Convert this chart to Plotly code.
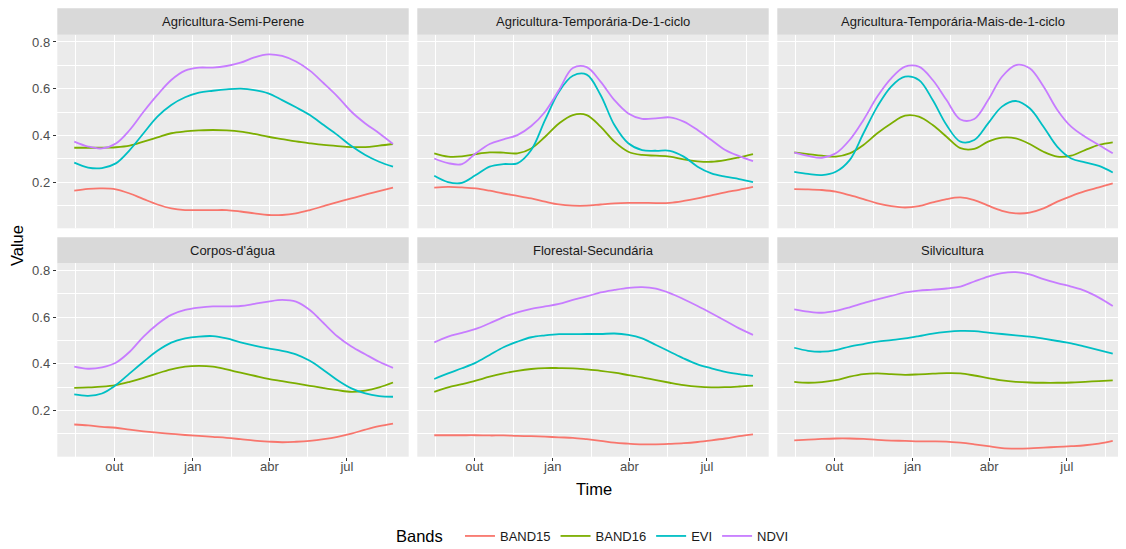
import pandas as pd
import plotly.graph_objects as go
from plotly.subplots import make_subplots

# 16-day composites, Aug 2013 -> Aug 2014
dates = pd.date_range("2013-08-15", "2014-08-24", periods=24)

classes = ["Agricultura-Semi-Perene", "Agricultura-Temporária-De-1-ciclo",
           "Agricultura-Temporária-Mais-de-1-ciclo", "Corpos-d'água",
           "Florestal-Secundária", "Silvicultura"]
bands = ["BAND15", "BAND16", "EVI", "NDVI"]
band_colors = ["#F8766D", "#7CAE00", "#00BFC4", "#C77CFF"]

tick_dates = ["2013-10-01", "2014-01-01", "2014-04-01", "2014-07-01"]
tick_labels = ["out", "jan", "abr", "jul"]
minor_dates = ["2013-08-16", "2013-11-16", "2014-02-15", "2014-05-16", "2014-08-16"]
y_ticks = [0.2, 0.4, 0.6, 0.8]
y_minor = [0.1, 0.3, 0.5, 0.7]

# Agricultura-Semi-Perene
semi_band15 = [0.163, 0.171, 0.173, 0.169, 0.151, 0.127, 0.104, 0.087, 0.080, 0.080, 0.080, 0.080,
               0.074, 0.066, 0.059, 0.059, 0.066, 0.080, 0.097, 0.114, 0.130, 0.146, 0.161, 0.176]
semi_band16 = [0.347, 0.347, 0.347, 0.349, 0.356, 0.373, 0.391, 0.409, 0.417, 0.421, 0.423, 0.421,
               0.416, 0.406, 0.394, 0.384, 0.374, 0.366, 0.359, 0.354, 0.350, 0.350, 0.356, 0.363]
semi_evi = [0.283, 0.262, 0.260, 0.280, 0.337, 0.409, 0.480, 0.530, 0.563, 0.583, 0.591, 0.597,
            0.600, 0.594, 0.580, 0.551, 0.520, 0.487, 0.444, 0.401, 0.354, 0.316, 0.287, 0.266]
semi_ndvi = [0.373, 0.352, 0.344, 0.365, 0.423, 0.501, 0.573, 0.637, 0.677, 0.690, 0.690, 0.697,
             0.711, 0.734, 0.747, 0.740, 0.716, 0.677, 0.623, 0.566, 0.501, 0.451, 0.409, 0.363]

# Agricultura-Temporária-De-1-ciclo
temp1_band15 = [0.176, 0.179, 0.177, 0.173, 0.163, 0.151, 0.141, 0.130, 0.116, 0.104, 0.099, 0.099,
                0.104, 0.109, 0.111, 0.111, 0.110, 0.111, 0.119, 0.130, 0.143, 0.156, 0.167, 0.179]
temp1_band16 = [0.323, 0.309, 0.310, 0.320, 0.327, 0.326, 0.323, 0.344, 0.394, 0.451, 0.487, 0.487,
                0.437, 0.373, 0.330, 0.316, 0.313, 0.309, 0.297, 0.289, 0.287, 0.294, 0.306, 0.320]
temp1_evi = [0.227, 0.200, 0.197, 0.230, 0.266, 0.277, 0.280, 0.337, 0.466, 0.587, 0.655, 0.660,
             0.573, 0.444, 0.366, 0.337, 0.334, 0.334, 0.309, 0.266, 0.237, 0.223, 0.213, 0.200]
temp1_ndvi = [0.301, 0.281, 0.277, 0.323, 0.363, 0.383, 0.401, 0.440, 0.501, 0.594, 0.688, 0.692,
              0.630, 0.551, 0.494, 0.471, 0.473, 0.477, 0.459, 0.423, 0.380, 0.337, 0.311, 0.290]

# Agricultura-Temporária-Mais-de-1-ciclo
tempm_band15 = [0.170, 0.169, 0.166, 0.159, 0.144, 0.127, 0.109, 0.097, 0.091, 0.097, 0.113, 0.127,
                0.134, 0.123, 0.099, 0.077, 0.066, 0.069, 0.087, 0.116, 0.140, 0.161, 0.177, 0.194]
tempm_band16 = [0.327, 0.320, 0.313, 0.309, 0.323, 0.359, 0.409, 0.451, 0.484, 0.480, 0.444, 0.394,
                0.345, 0.342, 0.373, 0.390, 0.387, 0.363, 0.330, 0.309, 0.313, 0.337, 0.359, 0.370]
tempm_evi = [0.244, 0.235, 0.230, 0.244, 0.294, 0.409, 0.523, 0.609, 0.651, 0.637, 0.551, 0.444,
             0.373, 0.380, 0.451, 0.523, 0.547, 0.516, 0.437, 0.351, 0.301, 0.284, 0.269, 0.241]
tempm_ndvi = [0.326, 0.312, 0.304, 0.323, 0.380, 0.466, 0.566, 0.644, 0.694, 0.694, 0.637, 0.551,
              0.468, 0.470, 0.551, 0.651, 0.701, 0.687, 0.609, 0.509, 0.437, 0.394, 0.359, 0.323]

# Corpos-d'água
agua_band15 = [0.140, 0.136, 0.130, 0.126, 0.118, 0.111, 0.105, 0.100, 0.095, 0.091, 0.087, 0.083,
               0.077, 0.071, 0.067, 0.064, 0.066, 0.070, 0.077, 0.087, 0.101, 0.118, 0.133, 0.144]
agua_band16 = [0.297, 0.299, 0.302, 0.309, 0.323, 0.340, 0.359, 0.376, 0.388, 0.391, 0.388, 0.376,
               0.362, 0.349, 0.336, 0.326, 0.316, 0.306, 0.296, 0.287, 0.280, 0.285, 0.299, 0.320]
agua_evi = [0.269, 0.263, 0.273, 0.309, 0.359, 0.409, 0.456, 0.491, 0.509, 0.517, 0.519, 0.509,
            0.492, 0.478, 0.466, 0.456, 0.441, 0.413, 0.373, 0.330, 0.295, 0.273, 0.262, 0.259]
agua_ndvi = [0.388, 0.379, 0.385, 0.405, 0.452, 0.517, 0.570, 0.610, 0.631, 0.641, 0.646, 0.646,
             0.648, 0.657, 0.667, 0.674, 0.667, 0.631, 0.574, 0.517, 0.474, 0.441, 0.409, 0.383]

# Florestal-Secundária
flor_band15 = [0.094, 0.094, 0.094, 0.094, 0.093, 0.093, 0.091, 0.090, 0.088, 0.085, 0.083, 0.077,
               0.070, 0.062, 0.058, 0.055, 0.055, 0.057, 0.060, 0.065, 0.072, 0.080, 0.090, 0.098]
flor_band16 = [0.280, 0.299, 0.313, 0.328, 0.345, 0.359, 0.370, 0.378, 0.382, 0.382, 0.381, 0.376,
               0.370, 0.362, 0.352, 0.342, 0.330, 0.319, 0.309, 0.302, 0.299, 0.300, 0.303, 0.307]
flor_evi = [0.335, 0.359, 0.381, 0.405, 0.438, 0.471, 0.495, 0.514, 0.522, 0.527, 0.527, 0.528,
            0.528, 0.530, 0.524, 0.509, 0.481, 0.452, 0.423, 0.398, 0.381, 0.366, 0.356, 0.348]
flor_ndvi = [0.492, 0.517, 0.533, 0.550, 0.574, 0.600, 0.621, 0.636, 0.646, 0.657, 0.674, 0.689,
             0.706, 0.717, 0.726, 0.729, 0.722, 0.703, 0.677, 0.648, 0.617, 0.585, 0.552, 0.524]

# Silvicultura
silv_band15 = [0.072, 0.075, 0.078, 0.080, 0.080, 0.078, 0.074, 0.071, 0.070, 0.068, 0.068, 0.067,
               0.062, 0.055, 0.047, 0.039, 0.037, 0.038, 0.041, 0.044, 0.047, 0.051, 0.058, 0.070]
silv_band16 = [0.323, 0.319, 0.322, 0.330, 0.345, 0.356, 0.359, 0.356, 0.353, 0.355, 0.358, 0.360,
               0.359, 0.350, 0.339, 0.329, 0.323, 0.320, 0.319, 0.319, 0.320, 0.323, 0.326, 0.329]
silv_evi = [0.469, 0.456, 0.452, 0.459, 0.474, 0.485, 0.495, 0.502, 0.509, 0.519, 0.530, 0.537,
            0.541, 0.540, 0.534, 0.528, 0.522, 0.517, 0.508, 0.498, 0.488, 0.474, 0.459, 0.444]
silv_ndvi = [0.634, 0.624, 0.619, 0.627, 0.642, 0.660, 0.676, 0.691, 0.706, 0.714, 0.718, 0.723,
             0.731, 0.753, 0.774, 0.789, 0.793, 0.784, 0.763, 0.746, 0.731, 0.713, 0.684, 0.648]

series = [
    [semi_band15, semi_band16, semi_evi, semi_ndvi],
    [temp1_band15, temp1_band16, temp1_evi, temp1_ndvi],
    [tempm_band15, tempm_band16, tempm_evi, tempm_ndvi],
    [agua_band15, agua_band16, agua_evi, agua_ndvi],
    [flor_band15, flor_band16, flor_evi, flor_ndvi],
    [silv_band15, silv_band16, silv_evi, silv_ndvi],
]

W, H = 1126, 549
OFF = 8  # page body margin: the plot div starts 8px in
FONT = "Liberation Sans, Arial, sans-serif"


def px_x(p):
    return (p - OFF) / W


def px_y(p):
    return 1 - (p - OFF) / H


fig = make_subplots(rows=2, cols=3)

for i, vals in enumerate(series):
    r, c = i // 3 + 1, i % 3 + 1
    for b, band in enumerate(bands):
        fig.add_trace(go.Scatter(x=dates, y=vals[b], mode="lines", name=band,
                                 line=dict(color=band_colors[b], width=1.8, shape="spline", smoothing=1.0),
                                 legendgroup=band, showlegend=(i == 0), hoverinfo="skip"),
                      row=r, col=c)

# panel geometry in page pixels (ggplot facet_wrap look)
col_px = [(57.3, 408.7), (417.3, 768.7), (777.3, 1126 + OFF)]
row_px = [(34.7, 228.3), (263.3, 456.7)]
strip_px = [(8.3, 34.7), (237.3, 263.3)]
x_left = "2013-07-26 03:00"
x_right = ["2014-09-11 10:00", "2014-09-11 10:00", "2014-09-17 23:00"]

for i in range(6):
    r, c = i // 3, i % 3
    n = "" if i == 0 else str(i + 1)
    x0, x1 = col_px[c]
    y0, y1 = row_px[r]
    fig.layout["xaxis" + n].update(
        domain=[px_x(x0), px_x(x1)], range=[x_left, x_right[c]], type="date",
        tickvals=tick_dates, ticktext=tick_labels,
        showticklabels=(r == 1), ticks="outside" if r == 1 else "",
        ticklen=3.5, tickwidth=1.1, tickcolor="#333333", ticklabelstandoff=-6,
        tickfont=dict(size=13, color="#4D4D4D", family=FONT),
        showgrid=True, gridcolor="white", gridwidth=1.1, zeroline=False, showline=False,
        minor=dict(tickvals=minor_dates, showgrid=True, gridcolor="white", gridwidth=0.55),
    )
    fig.layout["yaxis" + n].update(
        domain=[px_y(y1), px_y(y0)], range=[0.002, 0.831],
        tickvals=y_ticks, ticktext=[f"{v:.1f}" for v in y_ticks],
        showticklabels=(c == 0), ticks="outside" if c == 0 else "",
        ticklen=3.5, tickwidth=1.1, tickcolor="#333333",
        tickfont=dict(size=13, color="#4D4D4D", family=FONT),
        showgrid=True, gridcolor="white", gridwidth=1.1, zeroline=False, showline=False,
        minor=dict(tickvals=y_minor, showgrid=True, gridcolor="white", gridwidth=0.55),
    )
    s0, s1 = strip_px[r]
    fig.add_shape(type="rect", xref="paper", yref="paper",
                  x0=px_x(x0), x1=px_x(x1), y0=px_y(s1), y1=px_y(s0),
                  fillcolor="#D9D9D9", line=dict(width=0), layer="below")
    fig.add_annotation(text=classes[i], xref="paper", yref="paper",
                       x=px_x(x0 + 175.7), y=px_y((s0 + s1) / 2),
                       showarrow=False, font=dict(size=13, color="#1A1A1A", family=FONT),
                       xanchor="center", yanchor="middle")

fig.add_annotation(text="Value", xref="paper", yref="paper", x=px_x(17), y=px_y(246),
                   xanchor="center", yanchor="middle",
                   textangle=-90, showarrow=False, font=dict(size=16.5, color="black", family=FONT))
fig.add_annotation(text="Time", xref="paper", yref="paper", x=px_x(594), y=px_y(489),
                   xanchor="center", yanchor="middle",
                   showarrow=False, font=dict(size=16.5, color="black", family=FONT))

fig.update_layout(
    width=W, height=H, autosize=False,
    margin=dict(l=0, r=0, t=0, b=0),
    plot_bgcolor="#EBEBEB", paper_bgcolor="white",
    font=dict(family=FONT),
    legend=dict(orientation="h", x=px_x(594), xanchor="center", y=px_y(537), yanchor="middle",
                title=dict(text="Bands  ", font=dict(size=16.5, color="black", family=FONT)),
                font=dict(size=13, color="#1A1A1A", family=FONT),
                bgcolor="rgba(0,0,0,0)", itemwidth=30),
)

fig.write_html("out.html")
